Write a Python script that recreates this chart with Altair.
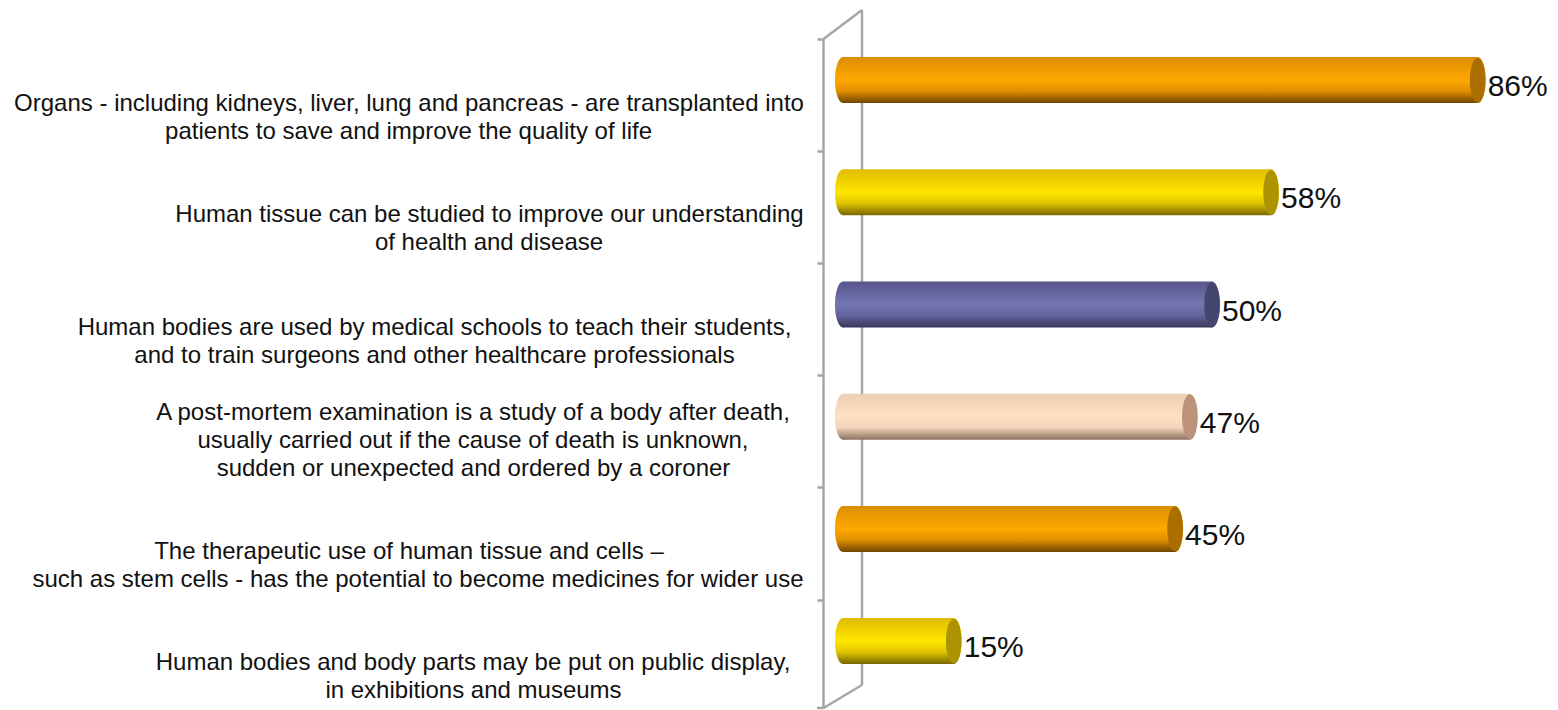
import altair as alt
import pandas as pd

keys = ["organs", "tissue", "schools", "postmortem", "therapeutic", "display"]
values = [86, 58, 50, 47, 45, 15]
label_lines = [
    ["Organs - including kidneys, liver, lung and pancreas - are transplanted into",
     "patients to save and improve the quality of life"],
    ["Human tissue can be studied to improve our understanding",
     "of health and disease"],
    ["Human bodies are used by medical schools to teach their students,",
     "and to train surgeons and other healthcare professionals"],
    ["A post-mortem examination is a study of a body after death,",
     "usually carried out if the cause of death is unknown,",
     "sudden or unexpected and ordered by a coroner"],
    ["The therapeutic use of human tissue and cells \u2013",
     "such as stem cells - has the potential to become medicines for wider use"],
    ["Human bodies and body parts may be put on public display,",
     "in exhibitions and museums"],
]
palette = {
    "orange": ["#DC8E00", "#FFA800", "#E09000", "#6E4600", "#AB6F00"],
    "yellow": ["#E0BC00", "#FFE600", "#E0C400", "#766500", "#AD9300"],
    "blue": ["#55558A", "#7676B2", "#63639A", "#38385A", "#45466F"],
    "peach": ["#EBCFB4", "#FFE0C4", "#F2D4B8", "#8A7260", "#BC927A"],
}
bar_colors = ["orange", "yellow", "blue", "peach", "orange", "yellow"]

# layout only
W, H = 1542, 702
PX0, PXP = 835.0, 7.38
line_x = [[401, 400.5], [481.5, 481], [426.5, 426.5], [465, 465, 465.5], [401, 410], [465, 465.5]]
line_dy = [[24, 52], [23, 51], [23, 51], [-4, 24, 52], [23, 51], [22, 50]]
GREY = "#A6A6A6"
ELLIPSE = ("M0,-1 C0.193,-1 0.35,-0.552 0.35,0 C0.35,0.552 0.193,1 0,1 "
           "C-0.193,1 -0.35,0.552 -0.35,0 C-0.35,-0.552 -0.193,-1 0,-1 Z")

x_scale = alt.Scale(domain=[-PX0 / PXP, (W - PX0) / PXP], range=[0, W], zero=False, nice=False)
y_scale = alt.Scale(domain=keys, range=[16, 16 + 112.2 * 6], paddingInner=0, paddingOuter=0)
y_axis = alt.Axis(offset=-815, domain=False, labels=False, grid=False, tickSize=6,
                  tickColor=GREY, tickWidth=2.5, bandPosition=0.134, title=None)
X = alt.X("v:Q", scale=x_scale, axis=None)
Y = alt.Y("k:N", scale=y_scale, axis=y_axis, sort=keys, title=None)


def grad(name):
    c = palette[name]
    return alt.Gradient(
        gradient="linear", x1=0, x2=0, y1=0, y2=1,
        stops=[alt.GradientStop(color=c[0], offset=0),
               alt.GradientStop(color=c[1], offset=0.5),
               alt.GradientStop(color=c[2], offset=0.74),
               alt.GradientStop(color=c[3], offset=1)],
    )


def wall(x1, y1, x2, y2):
    return alt.Chart(pd.DataFrame({"a": [0]})).mark_rule(color=GREY, strokeWidth=2.5).encode(
        x=alt.value(x1 - 8), y=alt.value(y1 - 8), x2=alt.value(x2 - 8), y2=alt.value(y2 - 8))


layers = [
    wall(823.5, 39, 823.5, 709),
    wall(817, 708, 823.5, 708),
    wall(862, 10, 862, 685),
    wall(823.5, 39, 862, 10),
    wall(823.5, 708, 862, 685),
]

for k, v, c in zip(keys, values, bar_colors):
    row = pd.DataFrame({"k": [k], "v": [v], "z": [0]})
    base = alt.Chart(row)
    layers.append(base.mark_point(shape=ELLIPSE, size=2116, filled=True, opacity=1, strokeWidth=0,
                                  fill=grad(c)).encode(x=alt.X("z:Q", scale=x_scale, axis=None), y=Y))
    layers.append(base.mark_bar(size=46, fill=grad(c)).encode(x=X, y=Y))
    layers.append(base.mark_point(shape=ELLIPSE, size=2116, filled=True, opacity=1, strokeWidth=0,
                                  fill=grad(c)).encode(x=X, y=Y))
    layers.append(base.mark_point(shape=ELLIPSE, size=2000, filled=True, opacity=1, strokeWidth=0,
                                  fill=palette[c][4]).encode(x=X, y=Y))
    layers.append(base.transform_calculate(t="datum.v + '%'").mark_text(
        align="left", baseline="middle", dx=10, dy=7, font="Liberation Sans", fontSize=30,
        color="#111111").encode(x=X, y=Y, text="t:N"))

for k, lines, xs, dys in zip(keys, label_lines, line_x, line_dy):
    for line, px, dy in zip(lines, xs, dys):
        layers.append(alt.Chart(pd.DataFrame({"k": [k], "t": [line]})).mark_text(
            align="center", baseline="middle", dy=dy, font="Liberation Sans", fontSize=24,
            color="#111111").encode(x=alt.value(px), y=Y, text="t:N"))

chart = alt.layer(*layers).properties(
    width=W, height=H, padding=0, background="white",
    autosize=alt.AutoSizeParams(type="none"),
).configure_view(stroke=None)

chart.save("out.html", embed_options={"renderer": "svg", "actions": False})
